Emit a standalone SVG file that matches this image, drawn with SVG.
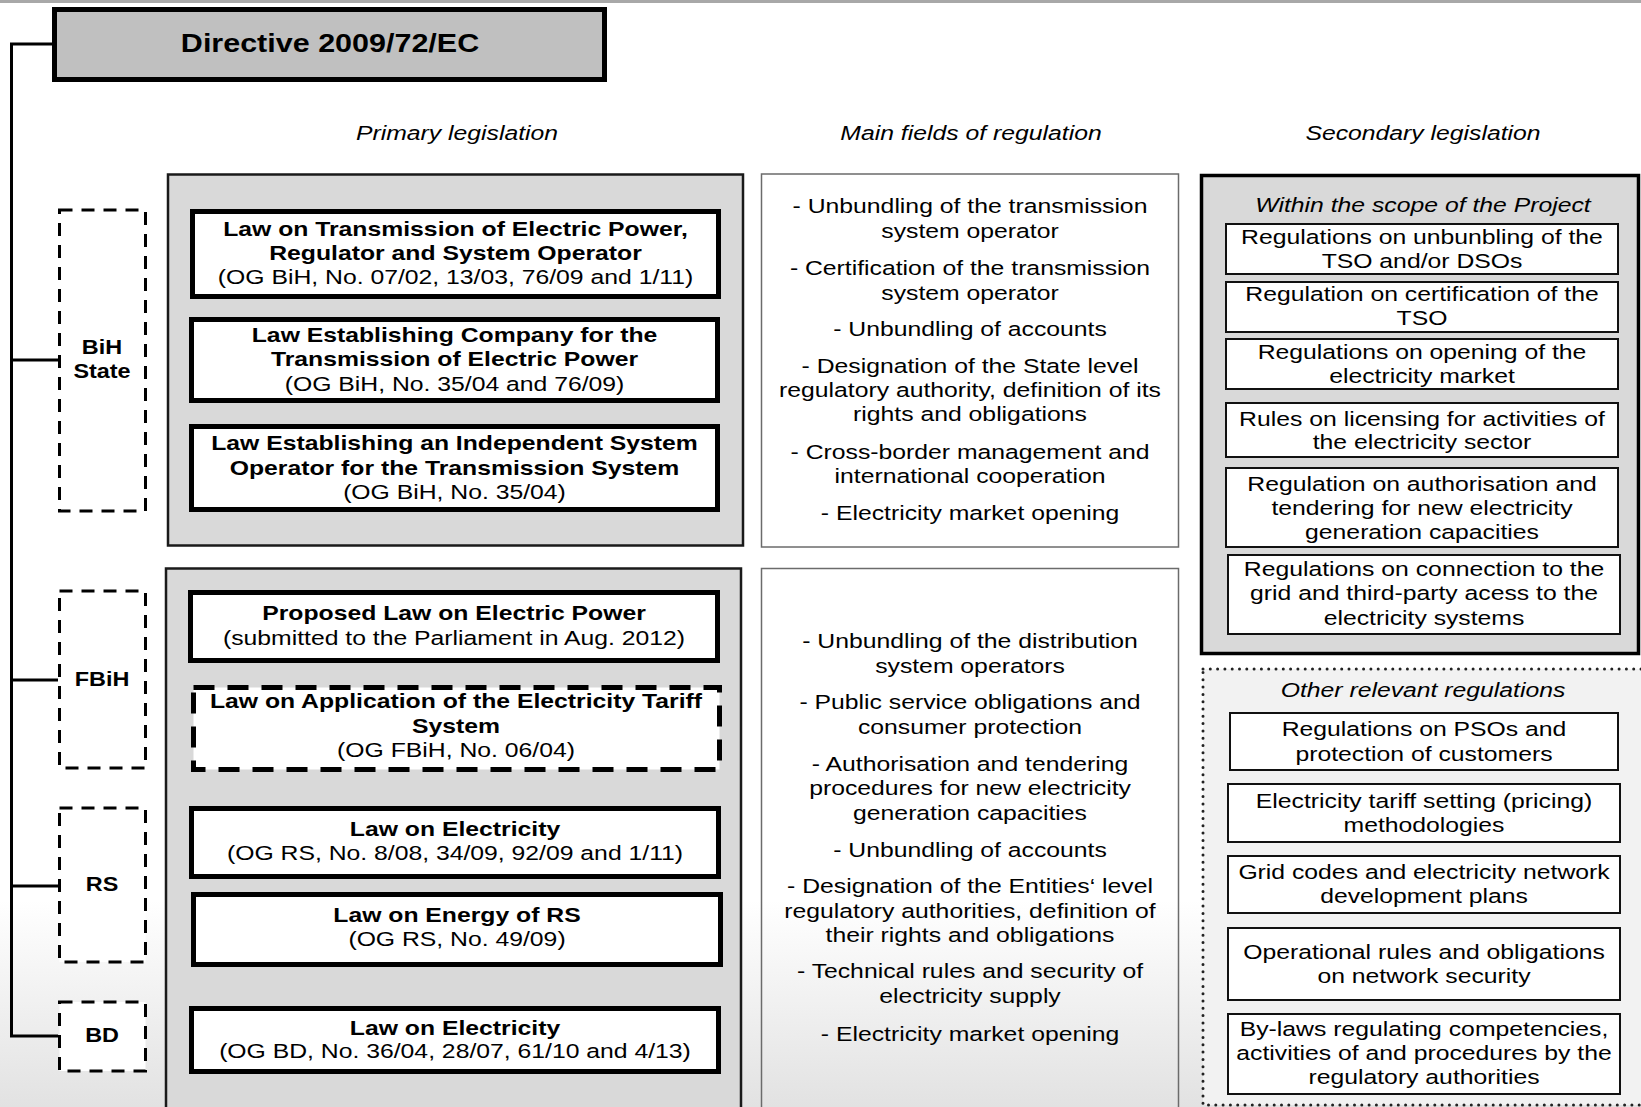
<svg xmlns="http://www.w3.org/2000/svg" width="1641" height="1107" viewBox="0 0 1641 1107">
<defs>
<linearGradient id="bg" x1="0" y1="900" x2="0" y2="1107" gradientUnits="userSpaceOnUse">
<stop offset="0" stop-color="#ffffff"/>
<stop offset="1" stop-color="#e2e2e2"/>
</linearGradient>
<style>
.t{font-family:"Liberation Sans",Arial,sans-serif;font-size:19.5px;fill:#000;text-anchor:middle}
.b{font-weight:bold}
.i{font-style:italic}
.law{fill:#fff;stroke:#000;stroke-width:5}
.lawd{fill:#fff;stroke:#000;stroke-width:5;stroke-dasharray:21 13}
.panel{fill:#d9d9d9;stroke:#1a1a1a;stroke-width:2.5}
.field{fill:none;stroke:#6b6b6b;stroke-width:1.5}
.lbl{fill:#fff;stroke:#000;stroke-width:3;stroke-dasharray:13 9}
.sec{fill:#fff;stroke:#111;stroke-width:2}
.conn{fill:none;stroke:#000;stroke-width:3}
</style>
</defs>
<rect x="0" y="0" width="1641" height="1107" fill="url(#bg)"/>
<rect x="0" y="0" width="1641" height="3" fill="#a8a8a8"/>

<g id="connectors">
<path class="conn" d="M53,44 H11.5 V1036 H58"/>
<path class="conn" d="M11.5,360 H58"/>
<path class="conn" d="M11.5,680 H58"/>
<path class="conn" d="M11.5,886 H58"/>
</g>

<g id="directive">
<rect x="54.5" y="9.5" width="550" height="70" fill="#c0c0c0" stroke="#000" stroke-width="5"/>
<text class="t b" style="font-size:25px" transform="translate(330,0) scale(1.22,1)"><tspan x="0" y="52">Directive 2009/72/EC</tspan></text>
</g>

<g id="headers">
<text class="t i" transform="translate(457,0) scale(1.27,1)"><tspan x="0" y="140">Primary legislation</tspan></text>
<text class="t i" transform="translate(971,0) scale(1.27,1)"><tspan x="0" y="140">Main fields of regulation</tspan></text>
<text class="t i" transform="translate(1423,0) scale(1.27,1)"><tspan x="0" y="140">Secondary legislation</tspan></text>
</g>

<g id="label-bih">
<rect class="lbl" x="59.5" y="210" width="86" height="301"/>
<text class="t b" transform="translate(102,0) scale(1.2,1)"><tspan x="0" y="354">BiH</tspan><tspan x="0" y="378">State</tspan></text>
</g>
<g id="label-fbih">
<rect class="lbl" x="59.5" y="591" width="86" height="177"/>
<text class="t b" transform="translate(102,0) scale(1.2,1)"><tspan x="0" y="686">FBiH</tspan></text>
</g>
<g id="label-rs">
<rect class="lbl" x="59.5" y="808" width="86" height="154"/>
<text class="t b" transform="translate(102,0) scale(1.2,1)"><tspan x="0" y="891">RS</tspan></text>
</g>
<g id="label-bd">
<rect class="lbl" x="59.5" y="1002" width="86" height="69"/>
<text class="t b" transform="translate(102,0) scale(1.2,1)"><tspan x="0" y="1042">BD</tspan></text>
</g>

<g id="panel-state">
<rect class="panel" x="168" y="174.5" width="575" height="371"/>
</g>
<g id="law-transmission">
<rect class="law" x="192.5" y="211.5" width="526" height="85"/>
<text class="t" transform="translate(455.5,0) scale(1.27,1)"><tspan class="b" x="0" y="236">Law on Transmission of Electric Power,</tspan><tspan class="b" x="0" y="260">Regulator and System Operator</tspan><tspan x="0" y="284">(OG BiH, No. 07/02, 13/03, 76/09 and 1/11)</tspan></text>
</g>
<g id="law-company">
<rect class="law" x="191.5" y="319.5" width="526" height="81"/>
<text class="t" transform="translate(454.5,0) scale(1.27,1)"><tspan class="b" x="0" y="342">Law Establishing Company for the</tspan><tspan class="b" x="0" y="366">Transmission of Electric Power</tspan><tspan x="0" y="391">(OG BiH, No. 35/04 and 76/09)</tspan></text>
</g>
<g id="law-iso">
<rect class="law" x="191.5" y="426.5" width="526" height="83"/>
<text class="t" transform="translate(454.5,0) scale(1.27,1)"><tspan class="b" x="0" y="450">Law Establishing an Independent System</tspan><tspan class="b" x="0" y="475">Operator for the Transmission System</tspan><tspan x="0" y="499">(OG BiH, No. 35/04)</tspan></text>
</g>

<g id="panel-entities">
<rect class="panel" x="166" y="568.5" width="575" height="545"/>
</g>
<g id="law-proposed">
<rect class="law" x="190.5" y="592.5" width="527" height="68"/>
<text class="t" transform="translate(454,0) scale(1.27,1)"><tspan class="b" x="0" y="620">Proposed Law on Electric Power</tspan><tspan x="0" y="645">(submitted to the Parliament in Aug. 2012)</tspan></text>
</g>
<g id="law-tariff">
<rect class="lawd" x="193.5" y="687.5" width="526" height="82"/>
<text class="t" transform="translate(456,0) scale(1.27,1)"><tspan class="b" x="0" y="708">Law on Application of the Electricity Tariff</tspan><tspan class="b" x="0" y="733">System</tspan><tspan x="0" y="757">(OG FBiH, No. 06/04)</tspan></text>
</g>
<g id="law-rs-electricity">
<rect class="law" x="191.5" y="808.5" width="527" height="68"/>
<text class="t" transform="translate(455,0) scale(1.27,1)"><tspan class="b" x="0" y="836">Law on Electricity</tspan><tspan x="0" y="860">(OG RS, No. 8/08, 34/09, 92/09 and 1/11)</tspan></text>
</g>
<g id="law-rs-energy">
<rect class="law" x="193.5" y="894.5" width="527" height="70"/>
<text class="t" transform="translate(457,0) scale(1.27,1)"><tspan class="b" x="0" y="922">Law on Energy of RS</tspan><tspan x="0" y="946">(OG RS, No. 49/09)</tspan></text>
</g>
<g id="law-bd">
<rect class="law" x="191.5" y="1008.5" width="527" height="63"/>
<text class="t" transform="translate(455,0) scale(1.27,1)"><tspan class="b" x="0" y="1035">Law on Electricity</tspan><tspan x="0" y="1058">(OG BD, No. 36/04, 28/07, 61/10 and 4/13)</tspan></text>
</g>

<g id="fields-state">
<rect class="field" x="761.5" y="174" width="417" height="373" style="fill:#fff"/>
<text class="t" transform="translate(970,0) scale(1.27,1)"><tspan x="0" y="213">- Unbundling of the transmission</tspan><tspan x="0" y="238">system operator</tspan><tspan x="0" y="275">- Certification of the transmission</tspan><tspan x="0" y="300">system operator</tspan><tspan x="0" y="336">- Unbundling of accounts</tspan><tspan x="0" y="373">- Designation of the State level</tspan><tspan x="0" y="397">regulatory authority, definition of its</tspan><tspan x="0" y="421">rights and obligations</tspan><tspan x="0" y="459">- Cross-border management and</tspan><tspan x="0" y="483">international cooperation</tspan><tspan x="0" y="520">- Electricity market opening</tspan></text>
</g>
<g id="fields-entities">
<rect class="field" x="761.5" y="568.5" width="417" height="545"/>
<text class="t" transform="translate(970,0) scale(1.27,1)"><tspan x="0" y="648">- Unbundling of the distribution</tspan><tspan x="0" y="673">system operators</tspan><tspan x="0" y="709">- Public service obligations and</tspan><tspan x="0" y="734">consumer protection</tspan><tspan x="0" y="771">- Authorisation and tendering</tspan><tspan x="0" y="795">procedures for new electricity</tspan><tspan x="0" y="820">generation capacities</tspan><tspan x="0" y="857">- Unbundling of accounts</tspan><tspan x="0" y="893">- Designation of the Entities‘ level</tspan><tspan x="0" y="918">regulatory authorities, definition of</tspan><tspan x="0" y="942">their rights and obligations</tspan><tspan x="0" y="978">- Technical rules and security of</tspan><tspan x="0" y="1003">electricity supply</tspan><tspan x="0" y="1041">- Electricity market opening</tspan></text>
</g>

<g id="secondary-scope">
<rect x="1201.5" y="175.5" width="437" height="478" fill="#d9d9d9" stroke="#000" stroke-width="3.5"/>
<text class="t i" transform="translate(1423,0) scale(1.27,1)"><tspan x="0" y="212">Within the scope of the Project</tspan></text>
</g>
<g id="sec-unbundling">
<rect class="sec" x="1226" y="224" width="392" height="50"/>
<text class="t" transform="translate(1422,0) scale(1.27,1)"><tspan x="0" y="244">Regulations on unbunbling of the</tspan><tspan x="0" y="268">TSO and/or DSOs</tspan></text>
</g>
<g id="sec-certification">
<rect class="sec" x="1226" y="282" width="392" height="50"/>
<text class="t" transform="translate(1422,0) scale(1.27,1)"><tspan x="0" y="301">Regulation on certification of the</tspan><tspan x="0" y="325">TSO</tspan></text>
</g>
<g id="sec-opening">
<rect class="sec" x="1226" y="339" width="392" height="50"/>
<text class="t" transform="translate(1422,0) scale(1.27,1)"><tspan x="0" y="359">Regulations on opening of the</tspan><tspan x="0" y="383">electricity market</tspan></text>
</g>
<g id="sec-licensing">
<rect class="sec" x="1226" y="403" width="392" height="54"/>
<text class="t" transform="translate(1422,0) scale(1.27,1)"><tspan x="0" y="426">Rules on licensing for activities of</tspan><tspan x="0" y="449">the electricity sector</tspan></text>
</g>
<g id="sec-authorisation">
<rect class="sec" x="1226" y="468" width="392" height="79"/>
<text class="t" transform="translate(1422,0) scale(1.27,1)"><tspan x="0" y="491">Regulation on authorisation and</tspan><tspan x="0" y="515">tendering for new electricity</tspan><tspan x="0" y="539">generation capacities</tspan></text>
</g>
<g id="sec-connection">
<rect class="sec" x="1228" y="555" width="392" height="79"/>
<text class="t" transform="translate(1424,0) scale(1.27,1)"><tspan x="0" y="576">Regulations on connection to the</tspan><tspan x="0" y="600">grid and third-party acess to the</tspan><tspan x="0" y="625">electricity systems</tspan></text>
</g>

<g id="secondary-other">
<rect x="1203" y="669" width="460" height="436" fill="#f2f2f2" stroke="#222" stroke-width="3" stroke-dasharray="0 7.3" stroke-linecap="round"/>
<text class="t i" transform="translate(1423,0) scale(1.27,1)"><tspan x="0" y="697">Other relevant regulations</tspan></text>
</g>
<g id="oth-pso">
<rect class="sec" x="1230" y="713" width="388" height="57"/>
<text class="t" transform="translate(1424,0) scale(1.27,1)"><tspan x="0" y="736">Regulations on PSOs and</tspan><tspan x="0" y="761">protection of customers</tspan></text>
</g>
<g id="oth-tariff">
<rect class="sec" x="1228" y="784" width="392" height="58"/>
<text class="t" transform="translate(1424,0) scale(1.27,1)"><tspan x="0" y="808">Electricity tariff setting (pricing)</tspan><tspan x="0" y="832">methodologies</tspan></text>
</g>
<g id="oth-grid">
<rect class="sec" x="1228" y="856" width="392" height="57"/>
<text class="t" transform="translate(1424,0) scale(1.27,1)"><tspan x="0" y="879">Grid codes and electricity network</tspan><tspan x="0" y="903">development plans</tspan></text>
</g>
<g id="oth-operational">
<rect class="sec" x="1228" y="928" width="392" height="72"/>
<text class="t" transform="translate(1424,0) scale(1.27,1)"><tspan x="0" y="959">Operational rules and obligations</tspan><tspan x="0" y="983">on network security</tspan></text>
</g>
<g id="oth-bylaws">
<rect class="sec" x="1228" y="1014" width="392" height="80"/>
<text class="t" transform="translate(1424,0) scale(1.27,1)"><tspan x="0" y="1036">By-laws regulating competencies,</tspan><tspan x="0" y="1060">activities of and procedures by the</tspan><tspan x="0" y="1084">regulatory authorities</tspan></text>
</g>
</svg>
